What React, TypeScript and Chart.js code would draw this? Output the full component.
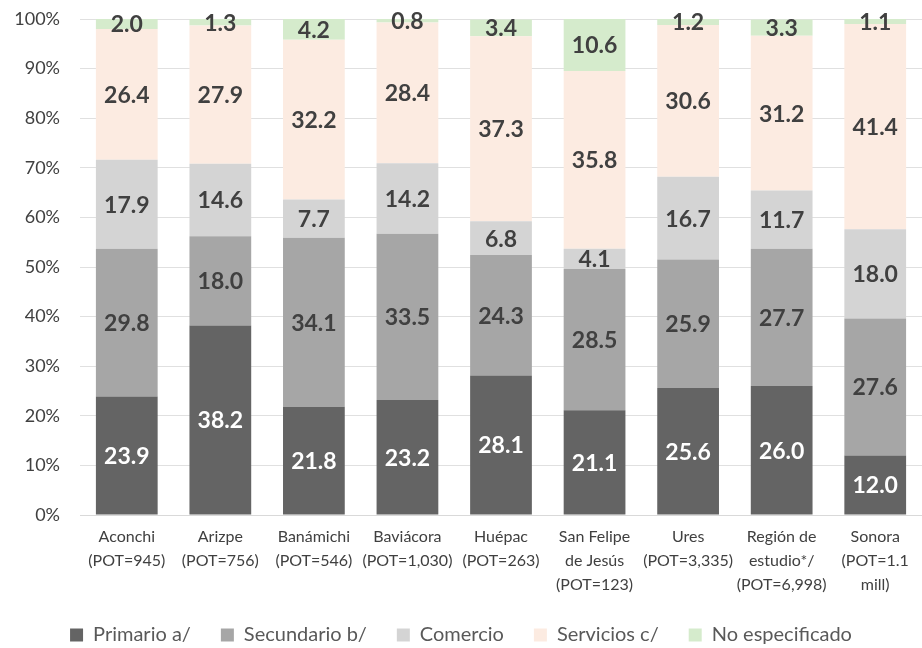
import React, { useEffect, useRef } from "react";
import { Chart, registerables } from "chart.js";

Chart.register(...registerables);

const categories: string[][] = [
  ["Aconchi", "(POT=945)"],
  ["Arizpe", "(POT=756)"],
  ["Banámichi", "(POT=546)"],
  ["Baviácora", "(POT=1,030)"],
  ["Huépac", "(POT=263)"],
  ["San Felipe", "de Jesús", "(POT=123)"],
  ["Ures", "(POT=3,335)"],
  ["Región de", "estudio*/", "(POT=6,998)"],
  ["Sonora", "(POT=1.1", "mill)"],
];

const primario = [23.9, 38.2, 21.8, 23.2, 28.1, 21.1, 25.6, 26.0, 12.0];
const secundario = [29.8, 18.0, 34.1, 33.5, 24.3, 28.5, 25.9, 27.7, 27.6];
const comercio = [17.9, 14.6, 7.7, 14.2, 6.8, 4.1, 16.7, 11.7, 18.0];
const servicios = [26.4, 27.9, 32.2, 28.4, 37.3, 35.8, 30.6, 31.2, 41.4];
const noEspecificado = [2.0, 1.3, 4.2, 0.8, 3.4, 10.6, 1.2, 3.3, 1.1];

const yTicks = [0, 10, 20, 30, 40, 50, 60, 70, 80, 90, 100];

const FONT = "Lato, 'Noto Sans', sans-serif";

const labelPlugin = {
  id: "segLabels",
  afterDraw(chart: any) {
    const ctx = chart.ctx;
    ctx.save();
    ctx.font = `bold 23px ${FONT}`;
    ctx.textAlign = "center";
    ctx.textBaseline = "middle";
    chart.data.datasets.forEach((ds: any, di: number) => {
      const meta = chart.getDatasetMeta(di);
      meta.data.forEach((el: any, i: number) => {
        const p = el.getProps(["x", "y", "base"], true);
        const v = ds.data[i];
        ctx.fillStyle = di === 0 ? "#ffffff" : "#404040";
        ctx.fillText(Number(v).toFixed(1), p.x, (p.y + p.base) / 2 + 1);
      });
    });
    ctx.restore();
  },
};

export default function App() {
  const ref = useRef<HTMLCanvasElement | null>(null);
  useEffect(() => {
    document.body.style.margin = "0";
    const chart = new Chart(ref.current as HTMLCanvasElement, {
      type: "bar",
      data: {
        labels: categories,
        datasets: [
          { label: "Primario a/", data: primario, backgroundColor: "#646464" },
          { label: "Secundario b/", data: secundario, backgroundColor: "#a6a6a6" },
          { label: "Comercio", data: comercio, backgroundColor: "#d4d4d4" },
          { label: "Servicios c/", data: servicios, backgroundColor: "#fcebe1" },
          { label: "No especificado", data: noEspecificado, backgroundColor: "#d5ebcc" },
        ],
      },
      options: {
        animation: false,
        responsive: false,
        maintainAspectRatio: false,
        layout: { padding: { top: 19, right: 0, left: 0, bottom: -7 } },
        datasets: { bar: { categoryPercentage: 0.66, barPercentage: 1 } },
        scales: {
          x: {
            stacked: true,
            grid: { display: false, drawTicks: false },
            border: { color: "#d9d9d9", width: 1 },
            afterFit: (axis: any) => {
              axis.height = axis.height - 12;
            },
            ticks: {
              color: "#404040",
              font: { family: FONT, size: 16, lineHeight: 1.5 },
              maxRotation: 0,
              autoSkip: false,
              padding: 10,
            },
          },
          y: {
            stacked: true,
            min: 0,
            max: 100,
            z: 1,
            afterBuildTicks: (axis: any) => {
              axis.ticks = yTicks.map((v) => ({ value: v }));
            },
            afterFit: (axis: any) => {
              axis.width = 80;
              axis.paddingTop = 11;
              axis.paddingBottom = 11;
            },
            grid: { color: "rgba(0,0,0,0.12)", lineWidth: 1, drawTicks: false },
            border: { display: false },
            ticks: {
              color: "#404040",
              font: { family: FONT, size: 18 },
              padding: 20,
              callback: (v: any) => `${v}%`,
            },
          },
        },
        plugins: {
          legend: {
            position: "bottom",
            labels: {
              boxWidth: 13,
              boxHeight: 13,
              padding: 30,
              color: "#595959",
              font: { family: FONT, size: 20 },
            },
          },
          tooltip: { enabled: false },
        },
      },
      plugins: [labelPlugin],
    });
    return () => chart.destroy();
  }, []);
  return (
    <div style={{ width: 922, height: 648 }}>
      <canvas ref={ref} width={922} height={648} style={{ width: 922, height: 648 }} />
    </div>
  );
}
